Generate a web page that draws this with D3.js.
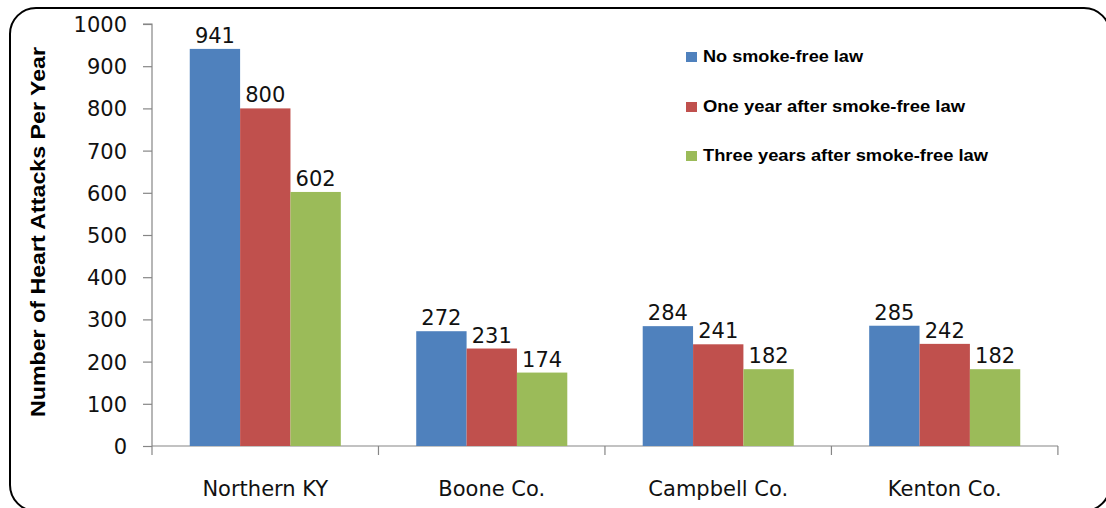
<!DOCTYPE html>
<html><head><meta charset="utf-8">
<script src="https://cdn.jsdelivr.net/npm/d3@7"></script>
<style>body{margin:0;background:#fff}svg{display:block}</style>
</head><body>
<script>
const categories = ["Northern KY", "Boone Co.", "Campbell Co.", "Kenton Co."];
const seriesNames = ["No smoke-free law", "One year after smoke-free law", "Three years after smoke-free law"];
const noLaw = [941, 272, 284, 285];
const oneYear = [800, 231, 241, 242];
const threeYears = [602, 174, 182, 182];
const yTicks = [0, 100, 200, 300, 400, 500, 600, 700, 800, 900, 1000];
const colors = ["#4F81BD", "#C0504D", "#9BBB59"];
const yTitle = "Number of Heart Attacks Per Year";

const W = 1106, H = 508;
const svg = d3.select("body").append("svg").attr("width", W).attr("height", H);
const series = [noLaw, oneYear, threeYears];

// frame
svg.append("rect").attr("x", 10).attr("y", 8).attr("width", 1100).attr("height", 503)
  .attr("rx", 26).attr("fill", "#fff").attr("stroke", "#000").attr("stroke-width", 2);

const pLeft = 152, pRight = 1058, pTop = 24, pBottom = 446;
const x = d3.scaleBand().domain(categories).range([pLeft, pRight]).paddingInner(0.333).paddingOuter(0.1667);
const xs = d3.scaleBand().domain(d3.range(3)).range([0, x.bandwidth()]);
const y = d3.scaleLinear().domain([0, 1000]).range([pBottom, pTop]);

const font = "'DejaVu Sans', sans-serif";
const boldFont = "'Liberation Sans', Arial, sans-serif";

// y axis
const ya = svg.append("g").attr("transform", `translate(${pLeft},0)`)
  .call(d3.axisLeft(y).tickValues(yTicks).tickSize(9).tickPadding(16).tickFormat(d3.format("d")));
ya.select(".domain").attr("stroke", "#868686").attr("stroke-width", 1.2).attr("d", `M-9,${pTop}H0V${pBottom}`);
ya.selectAll(".tick line").attr("stroke", "#868686").attr("stroke-width", 1.2);
ya.selectAll(".tick text").attr("font-family", font).attr("font-size", 21).attr("fill", "#111").attr("dy", "0.36em");

// x axis
const step = x.step();
const xa = svg.append("g").attr("transform", `translate(0,${pBottom})`);
xa.append("line").attr("x1", pLeft).attr("x2", pRight).attr("y1", 0).attr("y2", 0).attr("stroke", "#868686").attr("stroke-width", 1.2);
const tickXs = d3.range(categories.length + 1).map(i => pLeft + i * step);
xa.selectAll("line.t").data(tickXs).join("line").attr("class", "t")
  .attr("x1", d => d).attr("x2", d => d).attr("y1", 0).attr("y2", 9).attr("stroke", "#868686").attr("stroke-width", 1.2);
xa.selectAll("text").data(categories).join("text")
  .attr("x", d => x(d) + x.bandwidth() / 2).attr("y", 50)
  .attr("text-anchor", "middle").attr("font-family", font).attr("font-size", 21).attr("fill", "#111")
  .text(d => d);

// bars
series.forEach((vals, si) => {
  const g = svg.append("g");
  g.selectAll("rect").data(vals).join("rect")
    .attr("x", (d, i) => x(categories[i]) + xs(si))
    .attr("y", d => y(d))
    .attr("width", xs.bandwidth())
    .attr("height", d => pBottom - y(d))
    .attr("fill", colors[si]);
  g.selectAll("text").data(vals).join("text")
    .attr("x", (d, i) => x(categories[i]) + xs(si) + xs.bandwidth() / 2)
    .attr("y", d => y(d) - 6)
    .attr("text-anchor", "middle").attr("font-family", font).attr("font-size", 21).attr("fill", "#111")
    .text(d => d);
});

// y title
svg.append("text").attr("transform", `translate(45,232) rotate(-90)`)
  .attr("text-anchor", "middle").attr("font-family", boldFont).attr("font-weight", "bold")
  .attr("font-size", 20).attr("fill", "#000")
  .attr("textLength", 370).attr("lengthAdjust", "spacingAndGlyphs").text(yTitle);

// legend
const lg = svg.append("g");
const legBase = [62, 112, 161];
const legLen = [160, 262, 285];
seriesNames.forEach((n, i) => {
  lg.append("rect").attr("x", 686).attr("y", legBase[i] - 10).attr("width", 11).attr("height", 10).attr("fill", colors[i]);
  lg.append("text").attr("x", 703).attr("y", legBase[i]).attr("font-family", boldFont).attr("font-weight", "bold")
    .attr("font-size", 16).attr("fill", "#000")
    .attr("textLength", legLen[i]).attr("lengthAdjust", "spacingAndGlyphs").text(n);
});
</script>
</body></html>
